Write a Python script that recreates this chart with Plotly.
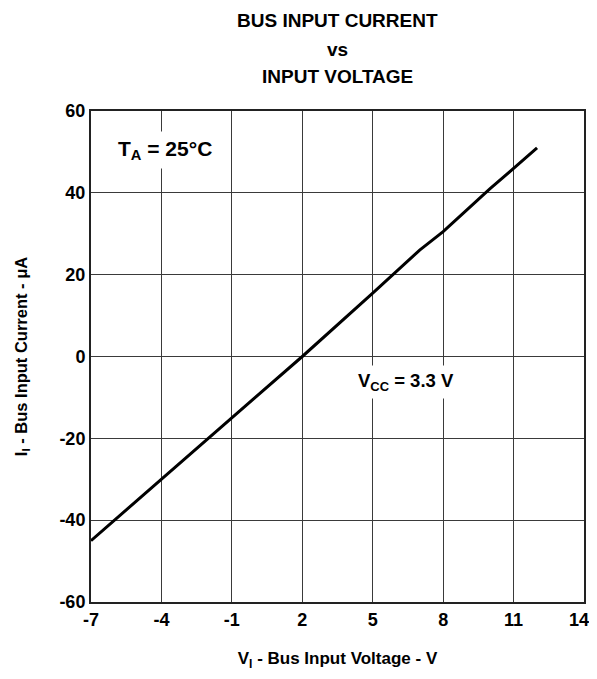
import plotly.graph_objects as go

# Data
v_in = [-7, -4, -2, -1, 2, 5, 7, 8, 10, 12]
i_in = [-45, -30, -20, -15, 0, 15.5, 26, 30.5, 41, 51]

x_ticks = [-7, -4, -1, 2, 5, 8, 11, 14]
y_ticks = [-60, -40, -20, 0, 20, 40, 60]

title_lines = ["BUS INPUT CURRENT", "vs", "INPUT VOLTAGE"]

FONT = "Liberation Sans, Arial, sans-serif"
# page has an 8px body margin; figure sized to fit the 597x679 window
W, H = 589, 663
L, R, T, B = 83, 13, 103, 69
PH = H - T - B
PLOT_TOP_PAGE = T + 8

fig = go.Figure()
fig.add_trace(go.Scatter(x=v_in, y=i_in, mode="lines",
                         line=dict(color="black", width=3), showlegend=False))

axis_common = dict(showgrid=True, gridcolor="#3a3a3a", gridwidth=1,
                   showline=True, linecolor="#222", linewidth=2, mirror=True,
                   zeroline=False, ticks="", automargin=False,
                   ticklabeloverflow="allow",
                   tickfont=dict(family=FONT, size=18, color="black"))

# last x label nudged left (as in the reference) so it stays inside the page
x_text = [f"<b>{t}</b>" for t in x_ticks]
x_text[-1] = f"<b>{x_ticks[-1]}</b>\u00a0\u00a0"

fig.update_xaxes(range=[-7, 14], tickvals=x_ticks, ticktext=x_text,
                 title=dict(text="<b>V<sub>I</sub> - Bus Input Voltage - V</b>", standoff=32,
                            font=dict(family=FONT, size=17, color="black")),
                 **axis_common)
fig.update_yaxes(range=[-60, 60], tickvals=y_ticks,
                 ticktext=[f"<b>{t}</b>" for t in y_ticks],
                 title=dict(text="<b>I<sub>I</sub> - Bus Input Current - μA</b>", standoff=28,
                            font=dict(family=FONT, size=16.5, color="black")),
                 **axis_common)

fig.add_annotation(x=-3.85, y=50.5, text="<b>T<sub>A</sub> = 25°C</b>", showarrow=False,
                   font=dict(family=FONT, size=21, color="black"),
                   bgcolor="white", borderpad=5)
fig.add_annotation(x=6.4, y=-6.3, text="<b>V<sub>CC</sub> = 3.3 V</b>", showarrow=False,
                   font=dict(family=FONT, size=18.5, color="black"),
                   bgcolor="white", borderpad=4)

for line, ypx in zip(title_lines, [20, 50, 76]):
    fig.add_annotation(xref="paper", yref="paper", x=0.5,
                       y=1 + (PLOT_TOP_PAGE - ypx) / PH,
                       xanchor="center", yanchor="middle", showarrow=False,
                       text=f"<b>{line}</b>",
                       font=dict(family=FONT, size=19, color="black"))

fig.update_layout(
    width=W, height=H,
    margin=dict(l=L, r=R, t=T, b=B),
    paper_bgcolor="white", plot_bgcolor="white",
)

fig.write_html("out.html")
